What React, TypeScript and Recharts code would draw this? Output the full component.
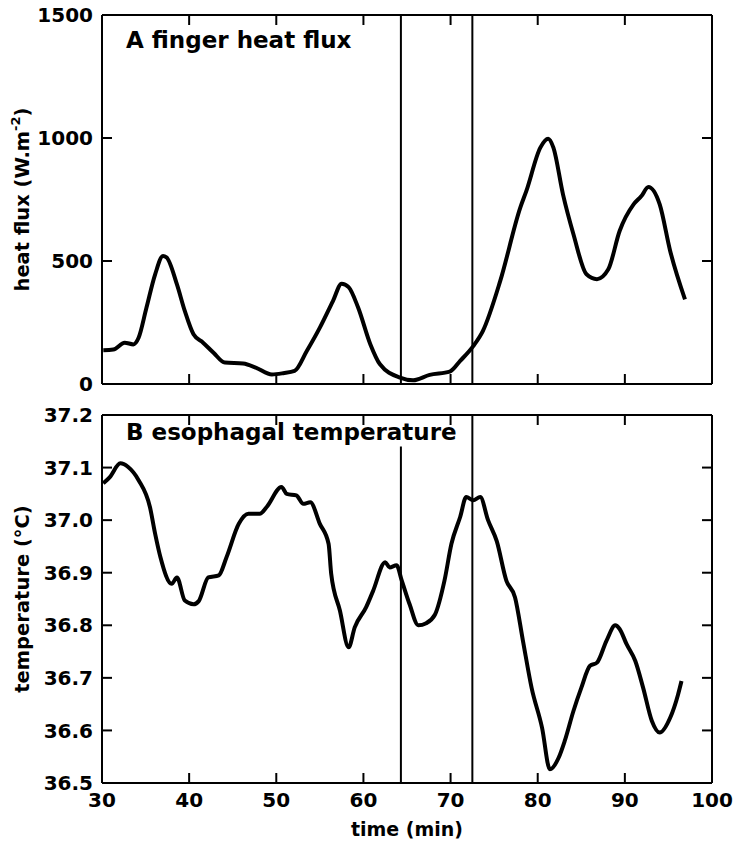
import React from 'react';
import { LineChart, Line, XAxis, YAxis, ReferenceLine } from 'recharts';

// ---- data ----
const heatTime = [30.15, 31.3, 32.6, 33.6, 34.2, 35.1, 36.1, 37.0, 37.4, 38.6, 39.5, 40.5, 41.6, 42.8, 44.1, 46.2, 47.7, 49.5, 50.8, 52.1, 53.5, 55.0, 56.5, 57.5, 58.3, 59.4, 60.8, 61.9, 64.2, 65.7, 67.6, 69.9, 71.1, 72.6, 73.7, 75.7, 78.0, 78.7, 80.3, 81.2, 81.8, 82.9, 84.1, 85.6, 86.8, 88.1, 89.4, 91.0, 91.9, 92.7, 94.0, 95.2, 96.9];
const heatFlux = [137, 140, 168, 161, 188, 310, 446, 520, 515, 405, 297, 202, 168, 127, 87, 83, 66, 39, 44, 53, 134, 229, 337, 408, 394, 310, 161, 80, 26, 15, 37, 50, 94, 154, 215, 419, 717, 785, 961, 997, 961, 771, 609, 446, 426, 466, 622, 730, 764, 801, 730, 541, 344];

const tempTime = [30.15, 30.9, 32.1, 33.0, 34.2, 35.5, 36.1, 36.7, 38.0, 38.6, 39.5, 40.5, 41.1, 42.2, 43.4, 44.3, 45.7, 46.8, 48.1, 48.9, 50.6, 51.2, 52.3, 53.1, 53.9, 55.0, 56.0, 56.3, 57.3, 58.3, 59.0, 60.3, 61.1, 62.5, 63.0, 63.8, 64.4, 65.3, 66.3, 67.2, 68.2, 69.3, 70.1, 71.1, 71.8, 72.6, 73.4, 74.3, 75.3, 76.4, 77.4, 78.3, 79.3, 80.5, 81.4, 82.4, 83.1, 84.1, 85.0, 86.0, 86.8, 87.9, 88.9, 89.4, 90.2, 91.2, 92.1, 93.1, 94.0, 95.2, 96.1, 96.5];
const tempValue = [37.07, 37.082, 37.108, 37.101, 37.076, 37.025, 36.974, 36.93, 36.879, 36.891, 36.847, 36.84, 36.846, 36.891, 36.895, 36.93, 36.993, 37.012, 37.012, 37.025, 37.063, 37.05, 37.047, 37.031, 37.034, 36.993, 36.955, 36.898, 36.828, 36.758, 36.796, 36.834, 36.865, 36.92, 36.91, 36.914, 36.885, 36.84, 36.8, 36.804, 36.82, 36.885, 36.955, 37.006, 37.044, 37.038, 37.044, 37.0, 36.96, 36.885, 36.853, 36.771, 36.681, 36.605, 36.526, 36.548, 36.58, 36.637, 36.681, 36.723, 36.729, 36.771, 36.8, 36.793, 36.764, 36.732, 36.681, 36.618, 36.596, 36.624, 36.668, 36.694];

const timeTicks = [30, 40, 50, 60, 70, 80, 90, 100];
const fluxTicks = [0, 500, 1000, 1500];
const tempTicks = [36.5, 36.6, 36.7, 36.8, 36.9, 37.0, 37.1, 37.2];
const markerTimes = [64.3, 72.5];
const markerTopB = 37.14; // first marker in panel B stops under the title

const panelATitle = 'A finger heat flux';
const panelBTitle = 'B esophagal temperature';
const xTitle = 'time (min)';

const heatData = heatTime.map((t, i) => ({ t, v: heatFlux[i] }));
const tempData = tempTime.map((t, i) => ({ t, v: tempValue[i] }));

const FONT = '"DejaVu Sans", Verdana, sans-serif';
const tickStyle = { fontFamily: FONT, fontSize: 20, fontWeight: 700, fill: '#000' };
const axisLine = { stroke: '#000', strokeWidth: 2 };
const tickLine = { stroke: '#000', strokeWidth: 2 };
const none = () => '';
const TICK = 10;

const makeYTitle = (main: string, sup?: string, tail?: string) => (props: any) => {
  const vb = props.viewBox || { x: 0, y: 0, width: 0, height: 0 };
  const cx = vb.x + 22;
  const cy = vb.y + vb.height / 2;
  return (
    <text
      x={cx}
      y={cy}
      transform={`rotate(-90 ${cx} ${cy})`}
      textAnchor="middle"
      dominantBaseline="central"
      fontFamily={FONT}
      fontSize={19.5}
      fontWeight={700}
      fill="#000"
    >
      {main}
      {sup ? (
        <tspan dy={-7} fontSize={13}>
          {sup}
        </tspan>
      ) : null}
      {tail ? <tspan dy={7}>{tail}</tspan> : null}
    </text>
  );
};

const titleStyle: React.CSSProperties = {
  position: 'absolute',
  fontFamily: FONT,
  fontSize: 23,
  fontWeight: 700,
  lineHeight: '23px',
  whiteSpace: 'nowrap',
  color: '#000',
};

export default function App() {
  return (
    <div style={{ position: 'absolute', left: 0, top: 0, width: 735, height: 843, background: '#fff' }}>
      <div style={{ position: 'absolute', left: 0, top: 0 }}>
        <LineChart width={735} height={400} data={heatData} margin={{ top: 15, right: 23, bottom: 16, left: 0 }}>
          <XAxis dataKey="t" type="number" domain={[30, 100]} allowDataOverflow ticks={timeTicks} height={20} mirror
            axisLine={axisLine} tickLine={tickLine} tickSize={TICK} tickFormatter={none} />
          <XAxis xAxisId="top" orientation="top" dataKey="t" type="number" domain={[30, 100]} allowDataOverflow ticks={timeTicks} height={20} mirror
            axisLine={axisLine} tickLine={tickLine} tickSize={TICK} tickFormatter={none} />
          <YAxis type="number" domain={[0, 1500]} allowDataOverflow ticks={fluxTicks} width={102}
            axisLine={axisLine} tickLine={false} tickSize={0} tickMargin={9} tick={tickStyle}
            label={{ content: makeYTitle('heat flux (W.m', '-2', ')') }} />
          <YAxis yAxisId="lt" orientation="left" type="number" domain={[0, 1500]} allowDataOverflow ticks={fluxTicks} width={20} mirror
            axisLine={false} tickLine={tickLine} tickSize={TICK} tickFormatter={none} />
          <YAxis yAxisId="r" orientation="right" type="number" domain={[0, 1500]} allowDataOverflow ticks={fluxTicks} width={20} mirror
            axisLine={axisLine} tickLine={tickLine} tickSize={TICK} tickFormatter={none} />
          {markerTimes.map((m) => (
            <ReferenceLine key={m} x={m} stroke="#000" strokeWidth={2} />
          ))}
          <Line dataKey="v" type="monotone" stroke="#000" strokeWidth={4} dot={false} isAnimationActive={false} />
        </LineChart>
      </div>
      <div style={{ position: 'absolute', left: 0, top: 400 }}>
        <LineChart width={735} height={443} data={tempData} margin={{ top: 15, right: 23, bottom: 0, left: 0 }}>
          <XAxis dataKey="t" type="number" domain={[30, 100]} allowDataOverflow ticks={timeTicks} height={60}
            axisLine={axisLine} tickLine={false} tickSize={0} tickMargin={10} tick={tickStyle}
            label={{ value: xTitle, position: 'insideBottom', offset: 7, style: { fontFamily: FONT, fontSize: 19, fontWeight: 700, fill: '#000' } }} />
          <XAxis xAxisId="bt" orientation="bottom" dataKey="t" type="number" domain={[30, 100]} allowDataOverflow ticks={timeTicks} height={20} mirror
            axisLine={false} tickLine={tickLine} tickSize={TICK} tickFormatter={none} />
          <XAxis xAxisId="top" orientation="top" dataKey="t" type="number" domain={[30, 100]} allowDataOverflow ticks={timeTicks} height={20} mirror
            axisLine={axisLine} tickLine={tickLine} tickSize={TICK} tickFormatter={none} />
          <YAxis type="number" domain={[36.5, 37.2]} allowDataOverflow ticks={tempTicks} width={102}
            axisLine={axisLine} tickLine={false} tickSize={0} tickMargin={9} tick={tickStyle}
            tickFormatter={(v: number) => v.toFixed(1)}
            label={{ content: makeYTitle('temperature (°C)') }} />
          <YAxis yAxisId="lt" orientation="left" type="number" domain={[36.5, 37.2]} allowDataOverflow ticks={tempTicks} width={20} mirror
            axisLine={false} tickLine={tickLine} tickSize={TICK} tickFormatter={none} />
          <YAxis yAxisId="r" orientation="right" type="number" domain={[36.5, 37.2]} allowDataOverflow ticks={tempTicks} width={20} mirror
            axisLine={axisLine} tickLine={tickLine} tickSize={TICK} tickFormatter={none} />
          <ReferenceLine segment={[{ x: markerTimes[0], y: 36.5 }, { x: markerTimes[0], y: markerTopB }]} stroke="#000" strokeWidth={2} />
          <ReferenceLine x={markerTimes[1]} stroke="#000" strokeWidth={2} />
          <Line dataKey="v" type="monotone" stroke="#000" strokeWidth={4} dot={false} isAnimationActive={false} />
        </LineChart>
      </div>
      <div style={{ ...titleStyle, left: 126, top: 29 }}>{panelATitle}</div>
      <div style={{ ...titleStyle, left: 126, top: 421 }}>{panelBTitle}</div>
    </div>
  );
}
